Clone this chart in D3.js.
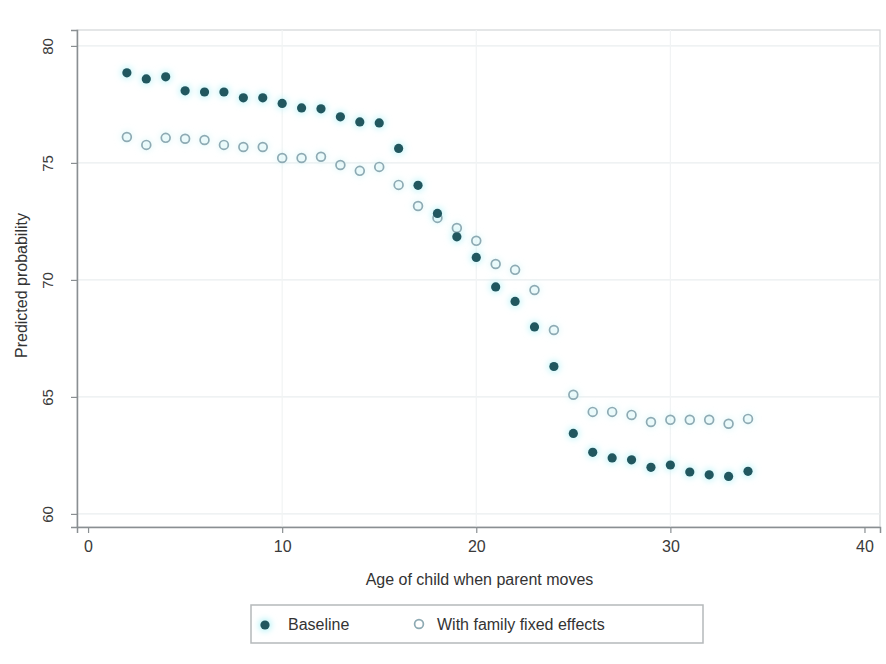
<!DOCTYPE html>
<html>
<head>
<meta charset="utf-8">
<script src="https://cdn.jsdelivr.net/npm/d3@7"></script>
<style>
  html, body { margin: 0; padding: 0; background: #ffffff; }
  svg { display: block; font-family: "Liberation Sans", Arial, sans-serif; }
</style>
</head>
<body>
<svg id="chart" width="886" height="664"></svg>
<script>
// Age of child when the parent moves (years)
const ages = [2,3,4,5,6,7,8,9,10,11,12,13,14,15,16,17,18,19,20,21,22,23,24,25,26,27,28,29,30,31,32,33,34];

// Predicted probability, baseline specification
const baseline = [78.85,78.59,78.68,78.08,78.03,78.03,77.78,77.78,77.54,77.35,77.31,76.97,76.75,76.71,
                  75.62,74.04,72.84,71.84,70.96,69.70,69.08,67.99,66.30,63.44,62.63,62.39,62.31,61.99,
                  62.09,61.79,61.67,61.60,61.82];

// Predicted probability, with family fixed effects
const familyFE = [76.11,75.77,76.07,76.03,75.98,75.77,75.68,75.68,75.21,75.21,75.26,74.91,74.66,74.83,
                  74.06,73.16,72.65,72.22,71.67,70.68,70.43,69.57,67.86,65.09,64.36,64.36,64.23,63.93,
                  64.02,64.02,64.02,63.85,64.06];

const xTicks = [0, 10, 20, 30, 40];
const yTicks = [60, 65, 70, 75, 80];
const seriesNames = ["Baseline", "With family fixed effects"];

const svg = d3.select("#chart");

// Plot region
const plotL = 77, plotR = 880, plotT = 30, plotB = 527;

const x = d3.scaleLinear().domain([-0.57, 40.8]).range([plotL, plotR]);
const y = d3.scaleLinear().domain([59.44, 80.68]).range([plotB, plotT]);

const defs = svg.append("defs");
defs.append("filter").attr("id", "halo")
  .attr("x", "-100%").attr("y", "-100%").attr("width", "300%").attr("height", "300%")
  .append("feGaussianBlur").attr("stdDeviation", 3.2);

// Plot background and frame
svg.append("rect")
  .attr("x", plotL).attr("y", plotT)
  .attr("width", plotR - plotL).attr("height", plotB - plotT)
  .attr("fill", "#ffffff")
  .attr("stroke", "#d2d6d8").attr("stroke-width", 1.2);

// Grid lines
svg.append("g").selectAll("line").data(yTicks).join("line")
  .attr("x1", plotL).attr("x2", plotR)
  .attr("y1", d => y(d)).attr("y2", d => y(d))
  .attr("stroke", "#eaeeef").attr("stroke-width", 1.2);

svg.append("g").selectAll("line").data(xTicks.slice(1, -1)).join("line")
  .attr("x1", d => x(d)).attr("x2", d => x(d))
  .attr("y1", plotT).attr("y2", plotB)
  .attr("stroke", "#f1f3f4").attr("stroke-width", 1.2);

// Axes
const xAxis = d3.axisBottom(x).tickValues(xTicks).tickSize(6).tickPadding(8);
const gx = svg.append("g").attr("transform", `translate(0,${plotB})`).call(xAxis);
gx.select(".domain").attr("stroke", "#8a8f92").attr("stroke-width", 1.5);
gx.selectAll(".tick line").attr("stroke", "#8a8f92").attr("stroke-width", 1.2);
gx.selectAll(".tick text").attr("font-size", 16).attr("fill", "#3a3a3a")
  .attr("font-family", "'Liberation Sans Narrow', 'Liberation Sans', Arial, sans-serif");

const yAxis = d3.axisLeft(y).tickValues(yTicks).tickSize(6).tickPadding(0);
const gy = svg.append("g").attr("transform", `translate(${plotL},0)`).call(yAxis);
gy.select(".domain").attr("stroke", "#8a8f92").attr("stroke-width", 1.5);
gy.selectAll(".tick line").attr("stroke", "#8a8f92").attr("stroke-width", 1.2);
gy.selectAll(".tick text")
  .attr("font-size", 15).attr("fill", "#3a3a3a")
  .attr("font-family", "'Liberation Sans Narrow', 'Liberation Sans', Arial, sans-serif")
  .attr("x", null).attr("dy", null)
  .attr("text-anchor", "middle")
  .attr("transform", "translate(-24,0) rotate(-90)");

// Axis titles
svg.append("text")
  .attr("x", (plotL + plotR) / 2 + 1).attr("y", 585)
  .attr("text-anchor", "middle").attr("font-size", 16).attr("fill", "#333")
  .text("Age of child when parent moves");

svg.append("text")
  .attr("transform", `translate(27,${(plotT + plotB) / 2 + 7}) rotate(-90)`)
  .attr("text-anchor", "middle").attr("font-size", 16).attr("fill", "#333")
  .text("Predicted probability");

// Soft halo behind the markers
const pts = svg.append("g");
pts.append("g").attr("filter", "url(#halo)").selectAll("circle")
  .data(ages.map((a, i) => [a, baseline[i]])).join("circle")
  .attr("cx", d => x(d[0])).attr("cy", d => y(d[1])).attr("r", 6.5)
  .attr("fill", "#b8f3f7").attr("opacity", 0.75);
pts.append("g").attr("filter", "url(#halo)").selectAll("circle")
  .data(ages.map((a, i) => [a, familyFE[i]])).join("circle")
  .attr("cx", d => x(d[0])).attr("cy", d => y(d[1])).attr("r", 6.5)
  .attr("fill", "#d4f5f7").attr("opacity", 0.6);

// Family fixed effects: hollow circles
pts.append("g").selectAll("circle")
  .data(ages.map((a, i) => [a, familyFE[i]])).join("circle")
  .attr("cx", d => x(d[0])).attr("cy", d => y(d[1])).attr("r", 4.4)
  .attr("fill", "none").attr("stroke", "#8eaab3").attr("stroke-width", 1.7);

// Baseline: solid markers
pts.append("g").selectAll("circle")
  .data(ages.map((a, i) => [a, baseline[i]])).join("circle")
  .attr("cx", d => x(d[0])).attr("cy", d => y(d[1])).attr("r", 4.6)
  .attr("fill", "#21575f");

// Legend
const lg = svg.append("g");
lg.append("rect")
  .attr("x", 251).attr("y", 605).attr("width", 452).attr("height", 38)
  .attr("fill", "#ffffff").attr("stroke", "#b5b9bb").attr("stroke-width", 1.5);
lg.append("circle").attr("cx", 265).attr("cy", 625).attr("r", 6.5)
  .attr("fill", "#b8f3f7").attr("filter", "url(#halo)");
lg.append("circle").attr("cx", 265).attr("cy", 625).attr("r", 4.6).attr("fill", "#21575f");
lg.append("text").attr("x", 288).attr("y", 630).attr("font-size", 16).attr("fill", "#333")
  .text(seriesNames[0]);
lg.append("circle").attr("cx", 419).attr("cy", 624).attr("r", 4.4)
  .attr("fill", "none").attr("stroke", "#8eaab3").attr("stroke-width", 1.7);
lg.append("text").attr("x", 437).attr("y", 630).attr("font-size", 16).attr("fill", "#333")
  .text(seriesNames[1]);
</script>
</body>
</html>
